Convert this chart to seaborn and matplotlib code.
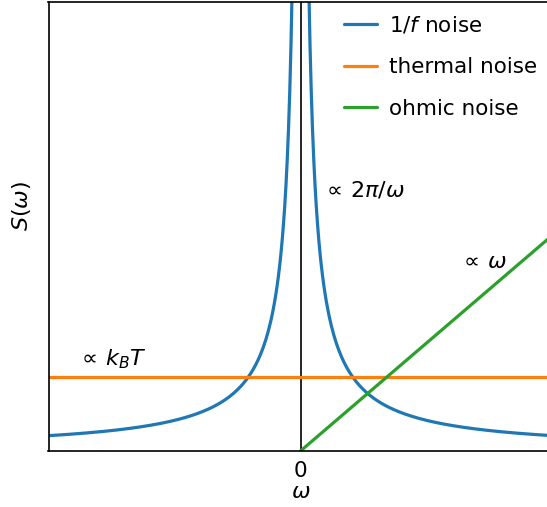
import numpy as np
import pandas as pd
import matplotlib
matplotlib.use("Agg")
import matplotlib.pyplot as plt
import seaborn as sns

# Frequency grid and noise-model parameters (arbitrary units)
omega = np.linspace(-10, 10, 400)
flicker_amp = 7.1      # amplitude of the 1/f branch
thermal_level = 3.45   # flat thermal floor
ohmic_slope = 1.0      # linear ohmic rise for omega > 0

series_names = ["$1/f$ noise", "thermal noise", "ohmic noise"]
series_colors = ["#1f77b4", "#ff7f0e", "#2ca02c"]

flicker = flicker_amp / np.abs(omega)
thermal = np.full_like(omega, thermal_level)
omega_pos = np.concatenate([[0.0], omega[omega >= 0]])
ohmic = ohmic_slope * omega_pos

df = pd.concat([
    pd.DataFrame({"omega": omega, "S": flicker, "kind": series_names[0]}),
    pd.DataFrame({"omega": omega, "S": thermal, "kind": series_names[1]}),
    pd.DataFrame({"omega": omega_pos, "S": ohmic, "kind": series_names[2]}),
])

sns.set_theme(style="white")
plt.rcParams["font.family"] = ["DejaVu Sans"]
plt.rcParams["mathtext.fontset"] = "dejavusans"
plt.rcParams["text.color"] = "black"
plt.rcParams["axes.labelcolor"] = "black"
plt.rcParams["xtick.color"] = "black"

FS = 15.5
MATH_FS = 16

fig = plt.figure(figsize=(5.47, 5.07), dpi=100)
W, H = 547, 507
ax = fig.add_axes([48.5 / W, (H - 451) / H, 504 / W, 449 / H])

sns.lineplot(data=df, x="omega", y="S", hue="kind", hue_order=series_names,
             palette=series_colors, linewidth=2.3, sort=False, estimator=None,
             ax=ax)

ax.axvline(0, color="black", linewidth=1.2, zorder=0)

ax.set_xlim(-10, 10)
ax.set_ylim(0, 20.8)
ax.set_xticks([0])
ax.set_xticklabels(["0"])
ax.set_yticks([])
ax.tick_params(axis="x", length=0, pad=7, labelsize=FS)
ax.set_xlabel(r"$\omega$", fontsize=MATH_FS, labelpad=1)
ax.set_ylabel(r"$S(\omega)$", fontsize=MATH_FS)
ax.yaxis.set_label_coords(-0.031, 0.545)

for side in ["left", "bottom", "top", "right"]:
    ax.spines[side].set_visible(True)
    ax.spines[side].set_color("black")
    ax.spines[side].set_linewidth(1.2)

ax.text(0.85, 12.1, r"$\propto\,2\pi/\omega$", fontsize=MATH_FS, va="center", ha="left")
ax.text(6.3, 8.75, r"$\propto\,\omega$", fontsize=MATH_FS, va="center", ha="left")
ax.text(-8.85, 4.25, r"$\propto\,k_BT$", fontsize=MATH_FS, va="center", ha="left")

leg = ax.legend(loc="upper right", bbox_to_anchor=(0.995, 1.0), frameon=False,
                fontsize=FS, handlelength=1.55, handletextpad=0.55,
                labelspacing=1.0, borderaxespad=0.2)
for line in leg.get_lines():
    line.set_linewidth(2.3)

fig.savefig("out.png", dpi=100)
